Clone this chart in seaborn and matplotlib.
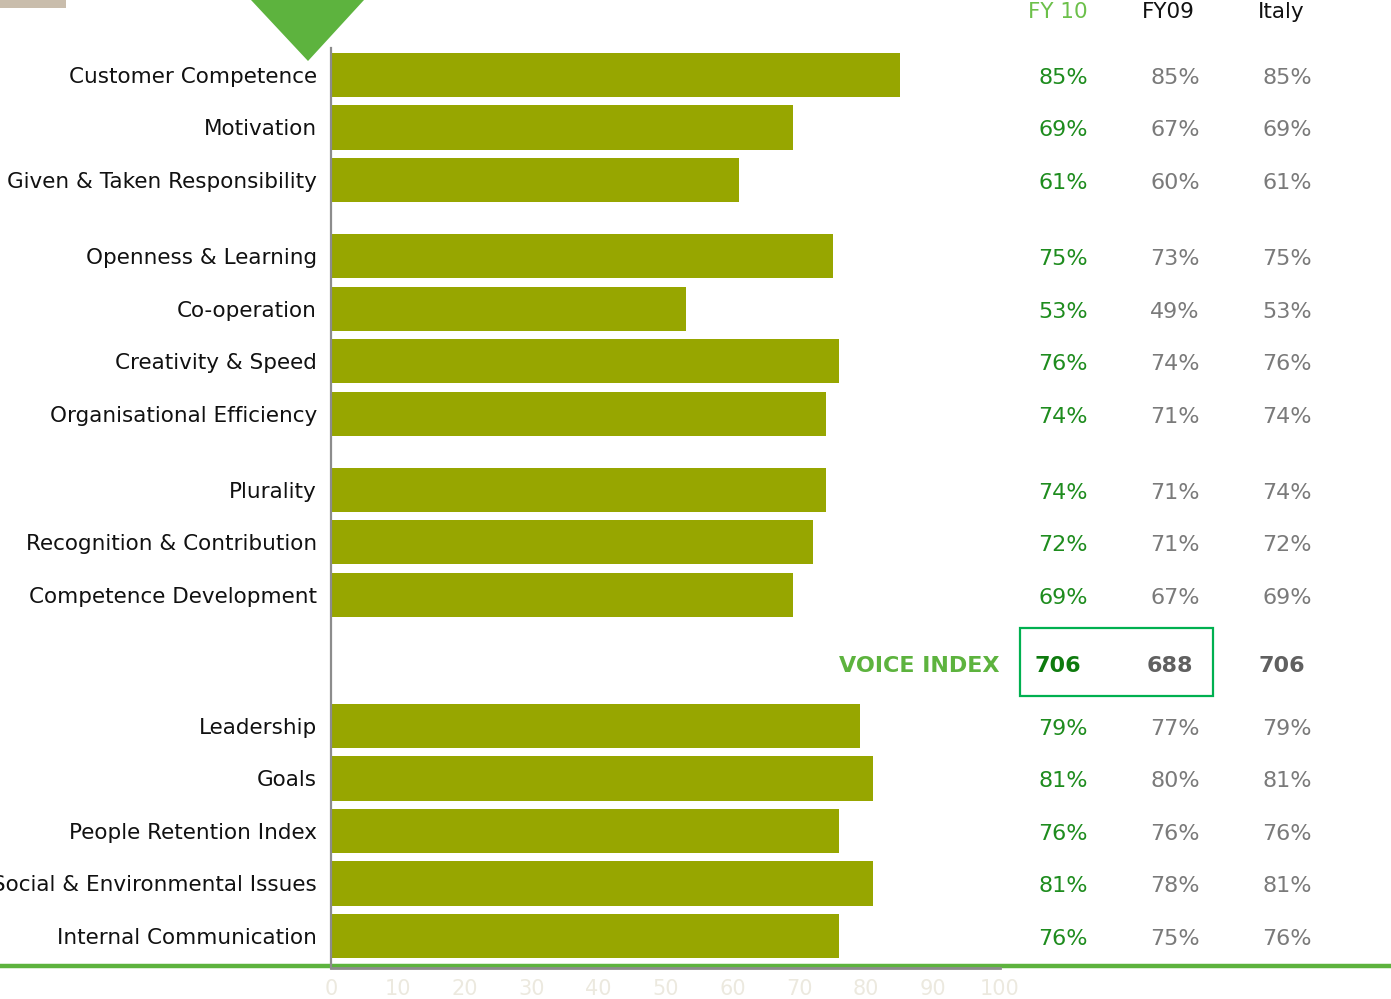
import matplotlib
matplotlib.use("Agg")
import matplotlib.pyplot as plt
import matplotlib.transforms as mtransforms
from matplotlib.patches import Polygon, Rectangle
from matplotlib.lines import Line2D
import seaborn as sns
import pandas as pd
import numpy as np

sns.set_style("white")
plt.rcParams['font.family'] = ['DejaVu Sans']

categories = ["Customer Competence", "Motivation", "Given & Taken Responsibility",
              "Openness & Learning", "Co-operation", "Creativity & Speed",
              "Organisational Efficiency",
              "Plurality", "Recognition & Contribution", "Competence Development",
              "Leadership", "Goals", "People Retention Index",
              "Social & Environmental Issues", "Internal Communication"]
fy10 = [85, 69, 61, 75, 53, 76, 74, 74, 72, 69, 79, 81, 76, 81, 76]
fy09 = [85, 67, 60, 73, 49, 74, 71, 71, 71, 67, 77, 80, 76, 78, 75]
italy = [85, 69, 61, 75, 53, 76, 74, 74, 72, 69, 79, 81, 76, 81, 76]
group_sizes = [3, 4, 3, 5]
column_headers = ["FY 10", "FY09", "Italy"]
voice_label = "VOICE INDEX"
voice_values = [706, 688, 706]
x_ticks = [0, 10, 20, 30, 40, 50, 60, 70, 80, 90, 100]

# layout of rows (groups separated by gaps; voice index row before last group)
positions = []
pos = 0.0
voice_pos = None
for gi, n in enumerate(group_sizes):
    if gi > 0:
        if gi == len(group_sizes) - 1:
            voice_pos = pos + 1.3
            pos += 2.5
        else:
            pos += 1.45
    for k in range(n):
        if k > 0:
            pos += 1.0
        positions.append(pos)

df = pd.DataFrame({"cat": categories, "fy10": fy10, "pos": positions})

W, H = 1391, 999
fig = plt.figure(figsize=(W / 100, H / 100), dpi=100)

# green baseline across the whole figure (behind the axes content)
fig.add_artist(Line2D([0, 1], [1 - 966 / H, 1 - 966 / H], color="#5DB33E",
                      linewidth=3.2, transform=fig.transFigure, zorder=0))

ax = fig.add_axes([331 / W, 1 - 968 / H, (1000 - 331) / W, (968 - 48) / H])
ax.set_facecolor("none")
ax.set_zorder(1)

sns.barplot(data=df, x="fy10", y="pos", orient="h", native_scale=True,
            color="#97A600", saturation=1, width=0.84, ax=ax, linewidth=0)

ax.set_xlim(0, 100)
ax.set_ylim(17.01, -0.514)
ax.set_yticks(positions)
ax.set_yticklabels(categories, fontsize=15.5, color="#111111")
ax.tick_params(axis="y", length=0, pad=10)
ax.set_xticks(x_ticks)
ax.set_xticklabels([str(t) for t in x_ticks], fontsize=15, color="#ECE9DF",
                   family=["Liberation Sans Narrow", "DejaVu Sans Condensed", "DejaVu Sans"])
ax.tick_params(axis="x", length=0, pad=8)
ax.set_xlabel("")
ax.set_ylabel("")
for s in ["top", "right"]:
    ax.spines[s].set_visible(False)
ax.spines["left"].set_color("#8C8C8C")
ax.spines["left"].set_linewidth(1.6)
ax.spines["bottom"].set_color("#8C8C8C")
ax.spines["bottom"].set_linewidth(2.0)

# green triangle & tan block at top
fig.add_artist(Polygon([[251 / W, 1.0], [364 / W, 1.0], [308 / W, 1 - 61 / H]],
                       closed=True, facecolor="#5DB33E", edgecolor="none",
                       transform=fig.transFigure))
fig.add_artist(Rectangle((0, 1 - 8 / H), 66 / W, 8 / H, facecolor="#C9BDAC",
                         edgecolor="none", transform=fig.transFigure))

trans = mtransforms.blended_transform_factory(fig.transFigure, ax.transData)
trans_num = trans + mtransforms.ScaledTranslation(0, -3 / 100, fig.dpi_scale_trans)
col_x = [1063, 1175, 1287]
col_colors = ["#1E8C1E", "#7A7A7A", "#7A7A7A"]

# headers
hdr_x = [1058, 1168, 1281]
hdr_colors = ["#6CC04A", "#111111", "#111111"]
for hx, h, c in zip(hdr_x, column_headers, hdr_colors):
    fig.text(hx / W, 1 - 12 / H, h, ha="center", va="center", fontsize=15.5, color=c)

for p, a, b, c in zip(positions, fy10, fy09, italy):
    for cx, v, colr in zip(col_x, (a, b, c), col_colors):
        ax.text(cx / W, p, f"{v}%", transform=trans_num, ha="center", va="center",
                fontsize=16, color=colr, clip_on=False)

# voice index row
ax.text(1000 / W, voice_pos, voice_label, transform=trans_num, ha="right",
        va="center", fontsize=16, color="#5DB33E", fontweight="bold", clip_on=False)
voice_x = [1058, 1170, 1282]
voice_colors = ["#0E7A0E", "#606060", "#606060"]
for vx, v, colr in zip(voice_x, voice_values, voice_colors):
    ax.text(vx / W, voice_pos, str(v), transform=trans_num, ha="center", va="center",
            fontsize=16, color=colr, fontweight="bold", clip_on=False)
fig.add_artist(Rectangle((1020 / W, 1 - 696 / H), (1213 - 1020) / W, (696 - 628) / H,
                         facecolor="none", edgecolor="#00B050", linewidth=1.6,
                         transform=fig.transFigure))

fig.savefig("out.png", dpi=100)
